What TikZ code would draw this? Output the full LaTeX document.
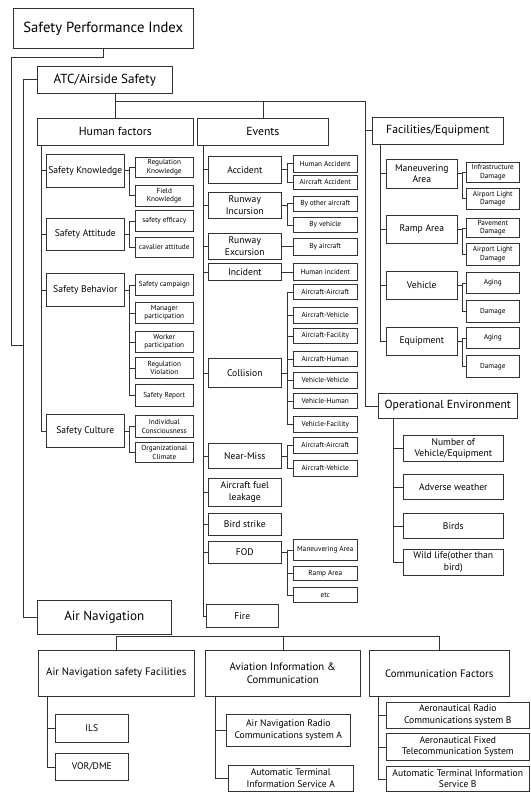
\documentclass[tikz,border=0pt]{standalone}
\usepackage{fontspec}
\setmainfont{PT Sans}

\tikzset{
  box/.style={draw=black!80, line width=0.5pt, inner sep=0pt, align=center},
  cell/.style n args={4}{at={(#1,#2)}, anchor=north west,
    minimum width={(#3-#1)*0.03cm}, minimum height={(#4-#2)*0.03cm}},
  big/.style={box, font=\fontsize{11.2}{13}\selectfont},
  head/.style={box, font=\fontsize{10}{12}\selectfont},
  sub/.style={box, font=\fontsize{9.2}{11}\selectfont},
  item/.style={box, font=\fontsize{8.2}{9.8}\selectfont},
  leaf/.style={box, font=\fontsize{6.2}{7.2}\selectfont},
  wire/.style={draw=black!80, line width=0.5pt}
}

\begin{document}
\begin{tikzpicture}[x=0.03cm, y=-0.03cm]
\useasboundingbox (0,0) rectangle (530,792);

%top levels
\node[big, cell={13}{8}{193}{48}, font=\fontsize{12.5}{14}\selectfont] (spi) {Safety Performance Index};
\node[big, cell={37}{66}{172}{93}] (atc) {ATC/Airside Safety};
\node[big, cell={37}{600}{171}{634}] (an) {Air Navigation};

\node[head, cell={37}{118}{193}{145}] (hf) {Human factors};
\node[head, cell={197}{118}{328}{145}] (ev) {Events};
\node[head, cell={372}{117}{503}{144}] (fe) {Facilities/Equipment};
\node[head, cell={378}{393}{517}{418}] (oe) {Operational Environment};

%human factors
\node[item, cell={46}{154}{124}{187}] (sk) {Safety Knowledge};
\node[item, cell={46}{218}{124}{250}] (sa) {Safety Attitude};
\node[item, cell={46}{273}{124}{306}] (sb) {Safety Behavior};
\node[item, cell={46}{414}{124}{447}] (sc) {Safety Culture};

\node[leaf, cell={135}{157}{193}{177}] (sk1) {Regulation\\Knowledge};
\node[leaf, cell={135}{185}{193}{206}] (sk2) {Field\\Knowledge};
\node[leaf, cell={135}{210}{193}{231}] (sa1) {safety efficacy};
\node[leaf, cell={135}{237}{193}{257}] (sa2) {cavalier attitude};
\node[leaf, cell={135}{274}{193}{295}] (sb1) {Safety campaign};
\node[leaf, cell={135}{302}{193}{323}] (sb2) {Manager\\participation};
\node[leaf, cell={135}{331}{193}{352}] (sb3) {Worker\\participation};
\node[leaf, cell={135}{357}{193}{378}] (sb4) {Regulation\\Violation};
\node[leaf, cell={135}{384}{193}{406}] (sb5) {Safety Report};
\node[leaf, cell={135}{415}{193}{437}] (sc1) {Individual\\Consciousness};
\node[leaf, cell={135}{442}{193}{462}] (sc2) {Organizational\\Climate};

%events
\node[item, cell={208}{156}{281}{183}] (e1) {Accident};
\node[item, cell={208}{192}{281}{218}] (e2) {Runway\\Incursion};
\node[item, cell={208}{233}{281}{259}] (e3) {Runway\\Excursion};
\node[item, cell={208}{263}{281}{280}] (e4) {Incident};
\node[item, cell={208}{358}{281}{387}] (e5) {Collision};
\node[item, cell={208}{443}{281}{468}] (e6) {Near-Miss};
\node[item, cell={208}{478}{281}{506}] (e7) {Aircraft fuel\\leakage};
\node[item, cell={208}{513}{281}{535}] (e8) {Bird strike};
\node[item, cell={208}{541}{281}{563}] (e9) {FOD};
\node[item, cell={206}{604}{278}{627}] (e10) {Fire};

\node[leaf, cell={293}{155}{357}{172}] (l1) {Human Accident};
\node[leaf, cell={293}{175}{357}{189}] (l2) {Aircraft Accident};
\node[leaf, cell={293}{196}{357}{211}] (l3) {By other aircraft};
\node[leaf, cell={293}{217}{357}{232}] (l4) {By vehicle};
\node[leaf, cell={293}{238}{357}{255}] (l5) {By aircraft};
\node[leaf, cell={293}{263}{357}{280}] (l6) {Human incident};
\node[leaf, cell={293}{284}{357}{299}] (c1) {Aircraft-Aircraft};
\node[leaf, cell={293}{307}{357}{323}] (c2) {Aircraft-Vehicle};
\node[leaf, cell={293}{328}{357}{343}] (c3) {Aircraft-Facility};
\node[leaf, cell={293}{351}{357}{366}] (c4) {Aircraft-Human};
\node[leaf, cell={293}{372}{357}{388}] (c5) {Vehicle-Vehicle};
\node[leaf, cell={293}{393}{357}{408}] (c6) {Vehicle-Human};
\node[leaf, cell={293}{416}{357}{432}] (c7) {Vehicle-Facility};
\node[leaf, cell={293}{437}{357}{453}] (n1) {Aircraft-Aircraft};
\node[leaf, cell={293}{460}{357}{476}] (n2) {Aircraft-Vehicle};
\node[leaf, cell={293}{539}{357}{560}] (d1) {Maneuvering Area};
\node[leaf, cell={293}{566}{357}{580}] (d2) {Ramp Area};
\node[leaf, cell={293}{587}{357}{602}] (d3) {etc};

%facilities
\node[item, cell={386}{159}{457}{188}] (f1) {Maneuvering\\Area};
\node[item, cell={386}{215}{457}{243}] (f2) {Ramp Area};
\node[item, cell={386}{271}{457}{299}] (f3) {Vehicle};
\node[item, cell={386}{327}{457}{355}] (f4) {Equipment};

\node[leaf, cell={466}{162}{519}{182}] (g1) {Infrastructure\\Damage};
\node[leaf, cell={466}{188}{519}{209}] (g2) {Airport Light\\Damage};
\node[leaf, cell={466}{218}{519}{237}] (g3) {Pavement\\Damage};
\node[leaf, cell={466}{243}{519}{265}] (g4) {Airport Light\\Damage};
\node[leaf, cell={466}{272}{519}{293}] (g5) {Aging};
\node[leaf, cell={466}{300}{519}{322}] (g6) {Damage};
\node[leaf, cell={466}{327}{519}{348}] (g7) {Aging};
\node[leaf, cell={466}{355}{519}{377}] (g8) {Damage};

%operational environment
\node[item, cell={403}{435}{503}{461}] (o1) {Number of\\Vehicle/Equipment};
\node[item, cell={403}{474}{503}{499}] (o2) {Adverse weather};
\node[item, cell={403}{513}{503}{538}] (o3) {Birds};
\node[item, cell={403}{549}{503}{575}] (o4) {Wild life(other than\\bird)};

%air navigation
\node[sub, cell={38}{650}{194}{696}] (ans) {Air Navigation\ safety Facilities};
\node[sub, cell={205}{650}{360}{696}] (aic) {Aviation Information \&\\Communication};
\node[sub, cell={369}{650}{509}{696}] (cf) {Communication Factors};

\node[item, cell={55}{714}{128}{742}] (ils) {ILS};
\node[item, cell={55}{753}{128}{780}] (vor) {VOR/DME};
\node[item, cell={226}{714}{350}{746}] (ai1) {Air Navigation Radio\\Communications system A};
\node[item, cell={228}{765}{353}{791}] (ai2) {Automatic Terminal\\Information Service A};
\node[item, cell={386}{702}{529}{728}] (cf1) {Aeronautical Radio\\Communications system B};
\node[item, cell={386}{733}{529}{760}] (cf2) {Aeronautical Fixed\\Telecommunication System};
\node[item, cell={386}{766}{529}{791}] (cf3) {Automatic Terminal Information\\Service B};

%main connectors
\coordinate (join) at (23,345);
\coordinate (bus1) at (365,101);
\draw[wire] (spi.south) -- ++(0,9) -| (11,345) -- (join);
\draw[wire] (atc.west) -- ++(-14,0) |- (an.west);
\draw[wire] (hf.north) -- (hf.north |- atc.south);
\draw[wire] (hf.north |- bus1) -- (bus1) |- (oe.west);
\draw[wire] (ev.north) -- (ev.north |- bus1);
\draw[wire] (fe.west) -- (fe.west -| bus1);

\draw[wire] (ans.north) -- ++(0,-14) -| (cf.north);
\draw[wire] (aic.north) -- ++(0,-14);

%trunks
\draw[wire] (hf.south west) ++(4,0) |- (sc.west);
\foreach \n in {sk,sa,sb} \draw[wire] (\n.west) -- ++(-5,0);
\draw[wire] (ev.south west) ++(6,0) |- (e10.west);
\foreach \n in {e1,e2,e3,e4,e5,e6,e7,e8,e9} \draw[wire] (\n.west) -- ++(-5,0);
\draw[wire] (fe.south west) ++(8,0) |- (f4.west);
\foreach \n in {f1,f2,f3} \draw[wire] (\n.west) -- ++(-6,0);
\draw[wire] (oe.south west) ++(15,0) |- (o4.west);
\foreach \n in {o1,o2,o3} \draw[wire] (\n.west) -- ++(-10,0);
\draw[wire] (ans.south west) ++(9,0) |- (vor.west);
\draw[wire] (ils.west) -- ++(-8,0);
\draw[wire] (aic.south west) ++(10,0) |- (ai2.west);
\draw[wire] (ai1.west) -- ++(-11,0);
\draw[wire] (cf.south west) ++(9,0) |- (cf3.west);
\foreach \n in {cf1,cf2} \draw[wire] (\n.west) -- ++(-8,0);

%leaf groups
\foreach \p/\a/\b in {sk/sk1/sk2, sa/sa1/sa2, sb/sb1/sb5, sc/sc1/sc2}{
  \draw[wire] (\p.east) -- ++(5,0);
  \draw[wire] (\a.west) -- ++(-6,0) |- (\b.west);
}
\foreach \n in {sb2,sb3,sb4} \draw[wire] (\n.west) -- ++(-6,0);

\foreach \p/\a/\b in {e1/l1/l2, e2/l3/l4, e5/c1/c7, e6/n1/n2, e9/d1/d3}{
  \draw[wire] (\p.east) -- ++(6,0);
  \draw[wire] (\a.west) -- ++(-6,0) |- (\b.west);
}
\foreach \n in {c2,c3,c4,c5,c6,d2} \draw[wire] (\n.west) -- ++(-6,0);
\draw[wire] (e3.east) -- (e3.east -| l5.west);
\draw[wire] (e4.east) -- (e4.east -| l6.west);

\foreach \p/\a/\b in {f1/g1/g2, f2/g3/g4, f3/g5/g6, f4/g7/g8}{
  \draw[wire] (\p.east) -- ++(5,0);
  \draw[wire] (\a.west) -- ++(-4,0) |- (\b.west);
}

\end{tikzpicture}
\end{document}
